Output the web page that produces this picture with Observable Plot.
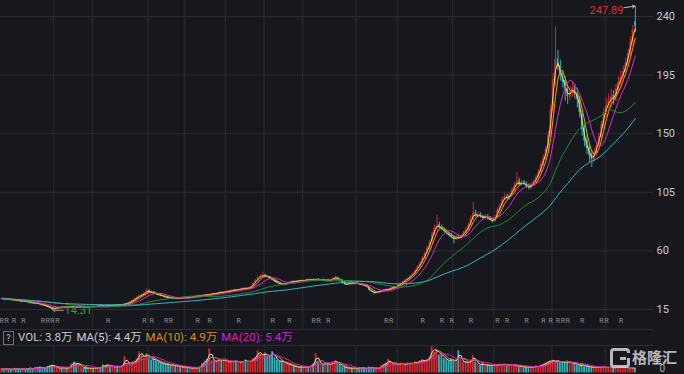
<!DOCTYPE html>
<html><head><meta charset="utf-8">
<script src="https://cdn.jsdelivr.net/npm/d3@7"></script>
<script src="https://cdn.jsdelivr.net/npm/@observablehq/plot@0.6"></script>
<style>
html,body{margin:0;padding:0;background:#16181d;}
#wrap{position:relative;width:684px;height:374px;overflow:hidden;background:#16181d;font-family:Roboto,"Noto Sans CJK SC",sans-serif;}
#main{position:absolute;left:0;top:0;}
#legend{position:absolute;left:3px;top:330px;width:680px;height:15px;font-size:11.5px;line-height:15px;color:#c9cdd3;display:flex;align-items:center;gap:4px;white-space:nowrap;}
#legend .q{display:inline-block;width:9px;height:12px;border:1px solid #6b6f76;font-size:9px;line-height:12px;text-align:center;color:#b0b4ba;margin-right:0;}
#vol{position:absolute;left:0;top:345px;}
#wm{position:absolute;left:609px;top:347px;width:75px;height:26px;opacity:0.78;}
#wm .g{position:absolute;left:1px;top:1px;width:20px;height:20px;box-sizing:border-box;border:3.5px solid #e4e4e4;border-radius:4px;}
#wm .g:after{content:"";position:absolute;right:-4px;top:2px;width:5px;height:5px;background:#16181d;}
#wm .g:before{content:"";position:absolute;right:1px;top:6px;width:6px;height:3px;background:#e4e4e4;}
#wm .t{position:absolute;left:23px;top:0px;font-size:15px;line-height:20px;font-weight:bold;color:#e4e4e4;font-family:"Noto Sans CJK SC",sans-serif;}
</style></head>
<body>
<div id="wrap">
  <div id="main"></div>
  <div id="legend">
    <span class="q">?</span>
    <span>VOL: 3.8万</span>
    <span>MA(5): 4.4万</span>
    <span style="color:#d98f1c">MA(10): 4.9万</span>
    <span style="color:#d420cf">MA(20): 5.4万</span>
  </div>
  <div id="vol"></div>
  <div id="wm"><div class="g"></div><span class="t">格隆汇</span></div>
</div>
<script>
// ---------- data (daily candles) ----------
const opens = [
23.1,23.5,22.9,23.2,22.7,22.1,22.6,21.8,21.7,21.1,21.6,20.8,20.5,20.2,19.6,20.0,19.2,18.9,18.4,17.7,16.8,16.0,
15.3,15.9,16.3,16.9,16.4,17.0,16.6,16.9,17.3,16.9,16.5,17.0,17.4,17.1,16.8,17.1,17.5,17.0,17.4,17.9,17.6,17.2,17.6,18.1,17.7,18.1,18.6,18.2,18.6,18.9,19.3,
19.9,20.7,21.8,23.3,24.3,25.8,26.2,27.6,29.6,28.4,28.1,27.0,26.7,26.1,
25.4,24.8,24.4,23.8,23.5,23.9,23.3,23.8,23.4,23.9,24.4,23.9,24.3,24.7,25.1,25.7,25.2,25.8,26.4,25.9,26.6,27.3,26.9,27.5,28.3,27.9,28.4,28.8,
29.1,29.5,30.2,29.7,30.5,30.8,31.4,30.9,31.7,32.5,34.9,37.1,39.4,40.2,41.5,40.4,39.9,38.5,37.6,36.2,35.0,34.7,33.9,34.9,
35.4,36.1,36.7,36.2,37.1,37.3,36.7,37.5,38.0,37.5,38.2,37.7,38.4,37.8,38.1,37.4,37.9,37.1,37.7,38.8,39.7,38.1,36.8,35.1,34.0,34.7,35.3,34.8,35.4,34.8,34.3,33.9,33.5,
32.0,29.8,28.4,27.7,28.5,28.8,29.7,30.3,29.9,30.9,31.4,32.3,32.5,34.0,35.1,36.3,38.2,38.7,40.8,42.2,45.1,47.5,51.0,54.0,58.3,61.5,
66.9,72.4,77.0,80.2,78.4,76.0,75.3,73.0,72.1,70.6,68.7,70.9,69.5,71.8,73.6,76.5,79.8,84.1,89.3,86.3,88.1,85.8,85.0,86.6,84.9,83.4,82.6,
85.9,90.6,94.8,99.6,101.9,100.1,103.2,106.1,110.4,113.8,110.5,112.9,111.6,109.9,108.0,110.9,113.0,116.9,120.2,127.0,130.6,138.4,149.2,167.5,190.0,
207.5,202.3,194.0,190.8,184.2,177.9,181.5,185.6,181.0,177.2,165.0,153.9,145.0,139.5,134.2,129.8,134.5,141.5,147.2,155.8,165.0,172.0,173.6,179.5,175.8,183.9,188.5,194.2,197.0,203.5,211.0,219.5,236.0
];
const highs = [
23.8,23.7,23.6,23.3,22.9,22.8,22.7,22.0,21.9,21.8,21.7,21.0,20.7,20.4,20.2,20.1,19.4,19.1,18.6,17.9,17.1,16.2,
16.1,16.6,17.0,17.1,17.2,17.2,17.0,17.4,17.5,17.0,17.2,17.5,17.6,17.3,17.3,17.6,17.7,17.7,18.0,18.1,17.8,17.9,18.2,18.3,18.4,18.7,18.8,18.9,19.1,19.6,20.2,
21.0,22.2,23.6,24.9,26.1,26.9,28.0,31.0,30.1,29.0,28.5,27.4,27.0,26.4,
25.6,25.0,24.6,24.1,24.0,24.1,23.9,23.9,24.1,24.5,24.6,24.6,25.0,25.4,25.9,25.9,26.1,26.6,26.6,26.9,27.5,27.5,27.8,28.5,28.6,28.7,29.1,29.5,
29.9,30.4,30.4,30.6,31.2,31.6,31.7,31.9,32.8,35.3,38.0,40.1,41.6,43.6,42.0,40.9,40.2,38.9,37.9,36.6,35.4,35.0,35.2,35.9,
36.3,36.9,36.9,37.3,37.5,37.5,37.6,38.2,38.2,38.4,38.4,38.6,38.6,38.3,38.3,38.0,38.1,37.8,39.4,40.6,39.9,38.4,37.0,35.4,34.9,35.6,35.6,35.6,35.7,35.0,34.5,34.1,33.7,
32.2,30.0,28.7,28.6,29.1,29.8,30.5,30.6,31.0,31.7,32.5,32.9,34.2,35.4,36.8,38.4,39.6,41.2,43.0,45.6,48.7,51.9,55.4,59.0,63.4,68.2,
74.5,79.6,87.0,82.1,79.9,77.6,76.2,74.3,73.5,71.8,71.9,72.0,72.6,74.9,77.8,81.3,86.9,97.0,91.2,89.9,89.3,87.6,87.9,88.0,86.2,84.8,87.4,
92.8,96.1,101.3,103.8,103.5,104.2,108.3,112.0,120.0,115.9,114.4,114.1,113.0,111.5,112.2,114.6,118.1,122.6,128.9,133.6,140.2,152.0,172.0,196.5,232.0,
214.0,206.5,198.0,193.5,188.0,186.0,190.0,188.0,185.0,179.0,168.0,157.0,149.0,142.0,137.0,138.5,143.5,150.5,159.5,169.5,177.0,180.5,184.0,183.0,188.0,193.5,198.0,202.0,208.0,215.0,224.5,233.0,247.89
];
const lows = [
22.8,22.8,22.7,22.4,21.9,21.9,21.7,21.3,20.9,21.0,20.7,20.2,19.8,19.5,19.4,19.1,18.6,18.1,17.4,16.7,15.8,14.31,
15.0,15.7,16.1,16.3,16.2,16.5,16.4,16.7,16.7,16.4,16.3,16.8,17.0,16.8,16.6,16.9,17.0,16.9,17.2,17.4,17.1,17.0,17.4,17.6,17.5,17.9,18.1,18.0,18.4,18.7,19.1,
19.7,20.5,21.6,23.0,24.0,25.5,25.9,27.3,28.2,27.6,26.8,26.3,25.7,25.1,
24.6,24.1,23.6,23.3,23.3,23.2,23.1,23.3,23.2,23.7,23.8,23.7,24.1,24.5,24.9,25.1,25.0,25.6,25.8,25.7,26.4,26.8,26.7,27.3,27.8,27.7,28.2,28.6,
28.9,29.3,29.6,29.5,30.3,30.6,30.8,30.7,31.5,32.3,34.6,36.8,39.0,40.0,40.2,39.4,38.3,37.1,35.8,34.9,34.3,33.6,33.7,34.6,
35.1,35.9,36.0,36.0,36.8,36.6,36.5,37.2,37.3,37.3,37.6,37.5,37.7,37.6,37.3,37.2,36.9,36.9,37.5,38.5,38.0,36.6,34.6,33.8,33.8,34.4,34.6,34.6,34.5,34.0,33.6,33.2,31.9,
29.2,28.1,26.2,27.4,28.2,28.6,29.5,29.8,29.7,30.6,31.2,32.0,32.3,33.7,34.8,36.0,37.9,38.4,40.4,41.9,44.6,47.0,50.4,53.5,57.6,60.8,
65.8,71.6,76.1,76.9,75.4,73.8,72.0,70.6,69.5,65.6,67.9,68.8,69.0,71.2,73.0,75.8,79.2,83.5,85.4,85.6,85.2,83.9,84.3,83.6,82.8,81.4,82.1,
85.0,89.8,93.9,98.5,98.8,99.0,102.2,105.2,109.3,109.7,109.6,110.1,108.0,106.6,107.2,109.8,112.2,115.8,119.4,125.1,129.5,136.8,147.5,165.0,186.0,
198.0,190.5,185.0,175.0,172.5,175.5,178.0,176.5,170.0,162.0,148.0,140.0,134.0,128.0,124.0,128.0,132.5,139.5,145.0,153.0,162.5,168.5,170.0,172.0,174.5,181.0,186.0,190.0,195.0,201.5,208.5,217.0,228.0
];
const closes = [
23.4,23.0,23.3,22.6,22.2,22.5,21.9,21.6,21.2,21.5,20.9,20.4,20.1,19.8,19.9,19.3,18.8,18.3,17.6,16.9,16.1,15.2,
15.9,16.4,16.8,16.5,17.0,16.7,16.9,17.2,16.8,16.6,17.0,17.3,17.1,16.9,17.2,17.4,17.1,17.5,17.8,17.6,17.3,17.7,18.0,17.8,18.2,18.5,18.3,18.7,18.9,19.4,19.9,
20.8,21.9,23.2,24.4,25.6,26.3,27.5,29.4,28.6,28.0,27.1,26.6,26.0,25.5,
24.9,24.3,23.9,23.6,23.8,23.4,23.7,23.5,23.9,24.3,24.0,24.4,24.8,25.2,25.6,25.3,25.9,26.3,26.0,26.7,27.2,27.0,27.6,28.2,28.0,28.5,28.9,29.2,
29.6,30.1,29.8,30.4,30.9,31.3,31.0,31.6,32.4,34.8,37.3,39.2,40.5,41.3,40.6,39.8,38.6,37.4,36.1,35.2,34.6,34.0,34.8,35.5,
36.0,36.6,36.3,37.0,37.2,36.8,37.4,37.9,37.6,38.1,37.8,38.3,37.9,38.0,37.5,37.8,37.2,37.6,38.9,39.6,38.2,36.9,35.0,34.1,34.6,35.2,34.9,35.3,34.7,34.2,33.8,33.4,32.2,
29.5,28.6,27.8,28.4,28.9,29.6,30.2,30.0,30.8,31.5,32.2,32.6,33.9,35.0,36.4,38.0,38.9,40.6,42.4,44.9,47.8,50.6,54.3,57.9,61.8,66.5,
72.8,77.5,79.8,78.2,76.4,74.9,73.2,71.8,70.4,68.9,70.6,69.8,71.5,73.8,76.2,79.4,84.6,88.9,86.7,87.8,86.1,85.2,86.4,84.7,83.6,82.9,85.5,
91.0,94.5,99.2,101.6,100.4,102.8,106.5,109.9,113.4,110.8,112.6,111.2,109.5,108.4,110.6,113.2,116.4,120.5,126.3,131.2,137.8,148.5,168.2,191.4,206.8,
201.5,195.2,189.6,183.4,178.6,182.1,184.8,180.2,176.5,166.4,152.8,144.1,138.6,133.5,130.2,135.4,140.8,147.9,156.6,166.3,171.5,174.8,178.2,176.4,184.6,189.3,193.5,197.8,204.2,211.6,220.3,229.5,232.0
];
// volume in 万
const volumes = [
4.2,3.8,4.5,3.6,4.1,3.9,4.8,3.5,4.0,4.4,3.7,
4.6,5.2,4.1,5.8,4.9,6.3,5.1,4.7,6.8,7.5,8.2,6.4,5.5,4.8,5.9,4.6,5.2,6.1,
9.6,11.2,8.7,10.1,
6.2,4.8,5.5,4.3,5.1,4.6,5.8,4.9,5.4,
8.3,7.1,9.0,6.8,
6.5,5.9,7.2,6.1,7.8,17.0,9.4,8.1,10.5,12.2,14.6,
22.0,18.4,15.6,20.1,16.8,13.5,14.7,12.3,
11.4,10.2,9.6,8.8,9.1,7.7,8.2,6.9,7.4,6.2,5.8,6.5,5.4,
5.1,4.8,5.6,5.0,6.3,
9.8,12.4,14.1,25.0,13.2,11.5,12.8,14.6,11.9,13.7,12.1,10.8,12.6,
11.3,12.9,10.6,12.0,11.8,13.4,10.9,12.5,14.8,16.2,
23.0,19.4,17.8,20.6,16.9,18.2,22.0,15.7,
13.1,11.8,12.4,10.3,9.6,8.7,7.9,6.8,6.2,
5.8,6.4,5.6,6.9,6.1,7.8,9.4,20.0,11.2,
9.8,8.4,10.6,9.1,8.2,11.8,12.4,10.1,9.0,
6.4,5.8,4.9,5.3,4.6,5.1,4.4,5.7,4.8,5.2,4.3,6.1,5.5,4.7,5.0,4.5,
7.8,8.9,10.2,14.3,9.6,8.4,9.9,8.8,10.4,9.2,8.6,10.8,9.4,10.1,11.6,10.5,
12.8,13.6,12.2,14.1,16.5,
27.0,21.5,24.8,18.6,19.4,
15.2,13.8,12.4,14.6,12.1,13.3,
23.0,12.8,10.6,11.9,10.2,12.7,18.0,11.4,
9.6,8.2,9.8,7.4,8.8,7.1,8.3,
8.9,7.6,9.4,8.1,9.7,7.8,8.5,9.2,7.3,
7.9,6.4,7.2,5.8,6.6,5.4,6.9,5.9,7.4,6.3,8.1,9.2,
10.4,11.8,12.6,13.2,11.5,12.9,10.8,11.6,10.2,12.4,10.9,9.8,10.6,
8.4,7.6,8.9,7.2,6.8,
6.4,5.7,6.2,5.5,6.0,5.8,6.3,5.4,5.9,5.8,
5.2,5.8,5.8,6.1,5.9,
5.8,5.2,5.6,5.0,3.8
];
const priceTicks = [15, 60, 105, 150, 195, 240];
const volTicks = [0];
const gridDays = [22, 38, 61, 76, 93, 109, 125, 147, 164, 187, 204, 228, 250];
const rMarkDays = [0,2,5,9,17,19,21,23,44,59,62,68,70,81,86,98,112,119,129,131,135,159,161,174,182,186,194,205,209,217,224,227,230,232,234,240,248,250,256];
// each candle here stands for ~2.4 trading days, so MA5/10/20/60/120 span 2/4/8/25/50 candles
const maPrice = [2, 4, 8, 25, 50];
const maPriceColors = ["#f2e34a", "#e89a2a", "#d52bd2", "#1f8e2c", "#3ab8c4"];
const maVol = [2, 4, 8];
const maVolColors = ["#dedede", "#d98f1c", "#d420cf"];

// ---------- build ----------
const N = Math.min(opens.length, highs.length, lows.length, closes.length, volumes.length);
const rows = d3.range(N).map(i => ({i, o: opens[i], h: highs[i], l: lows[i], c: closes[i], v: volumes[i]}));
const movAvg = (arr, w) => arr.map((_, i) => d3.mean(arr.slice(Math.max(0, i - w + 1), i + 1)));
const UP = "#d8262c", DOWN = "#2fb0b8", GRID = "#2a2d33";
const col = d => d.c >= d.o ? UP : DOWN;
const X = {type: "linear", domain: [0, 270], range: [0, 653], axis: null};

const maxRow = rows.reduce((a, b) => b.h > a.h ? b : a);
const minRow = rows.reduce((a, b) => b.l < a.l ? b : a);

const priceMarks = [
  Plot.ruleY(priceTicks, {stroke: GRID}),
  Plot.ruleX(gridDays, {stroke: GRID}),
  Plot.frame({anchor: "bottom", stroke: GRID}),
  Plot.axisY(priceTicks, {anchor: "right", tickSize: 0, tickPadding: 3, label: null, fill: "#c5c9cf", fontSize: 11}),
  Plot.text(rMarkDays, {x: d => d + 0.5, frameAnchor: "bottom", dy: -7, text: () => "R", fill: "#8b9098", fontSize: 7}),
  Plot.ruleX(rows, {x: d => d.i + 0.5, y1: "l", y2: "h", stroke: col, strokeWidth: 1}),
  Plot.rect(rows, {x1: d => d.i + 0.18, x2: d => d.i + 0.82, y1: "o", y2: "c", fill: col})
];
maPrice.forEach((w, k) => {
  const m = movAvg(closes.slice(0, N), w);
  priceMarks.push(Plot.line(rows, {x: d => d.i + 0.5, y: d => m[d.i], stroke: maPriceColors[k], strokeWidth: 1}));
});
priceMarks.push(
  Plot.text([maxRow], {x: d => d.i + 0.5, y: "h", text: d => d.h.toFixed(2), textAnchor: "end", dx: -12, dy: 4, fill: "#de3138", fontSize: 11}),
  Plot.arrow([maxRow], {x1: d => d.i - 4.2, y1: d => d.h - 1.1, x2: d => d.i + 0.3, y2: "h", stroke: "#b8bcc2", strokeWidth: 1, headLength: 4}),
  Plot.text([minRow], {x: d => d.i + 0.5, y: "l", text: d => d.l.toFixed(2), textAnchor: "start", dx: 12, dy: 0, fill: "#27a052", fontSize: 11}),
  Plot.arrow([minRow], {x1: d => d.i + 5, y1: "l", x2: d => d.i + 0.8, y2: "l", stroke: "#8b9098", strokeWidth: 1, headLength: 3})
);

const main = Plot.plot({
  width: 684, height: 330, marginTop: 0, marginLeft: 0, marginBottom: 1, marginRight: 31,
  style: {background: "transparent", color: "#c5c9cf", fontFamily: "Roboto, 'Noto Sans CJK SC', sans-serif", overflow: "visible"},
  x: X,
  y: {type: "linear", domain: [15, 240], range: [309, 16]},
  marks: priceMarks
});
document.getElementById("main").appendChild(main);

const volMarks = [
  Plot.ruleX(gridDays, {stroke: GRID}),
  Plot.frame({anchor: "top", stroke: GRID}),
  Plot.axisY(volTicks, {anchor: "right", tickSize: 0, tickPadding: 6, label: null, fill: "#a9adb3", fontSize: 10, dy: -4}),
  Plot.rect(rows, {x1: d => d.i + 0.12, x2: d => d.i + 0.88, y1: 0, y2: "v", fill: col})
];
maVol.forEach((w, k) => {
  const m = movAvg(volumes.slice(0, N), w);
  volMarks.push(Plot.line(rows, {x: d => d.i + 0.5, y: d => m[d.i], stroke: maVolColors[k], strokeWidth: 1}));
});
const vol = Plot.plot({
  width: 684, height: 29, marginTop: 0, marginLeft: 0, marginBottom: 0, marginRight: 31,
  style: {background: "transparent", color: "#c5c9cf", fontFamily: "Roboto, sans-serif", overflow: "visible"},
  x: X,
  y: {type: "linear", domain: [0, 28], range: [27.5, 0.5]},
  marks: volMarks
});
document.getElementById("vol").appendChild(vol);
</script>
</body></html>
